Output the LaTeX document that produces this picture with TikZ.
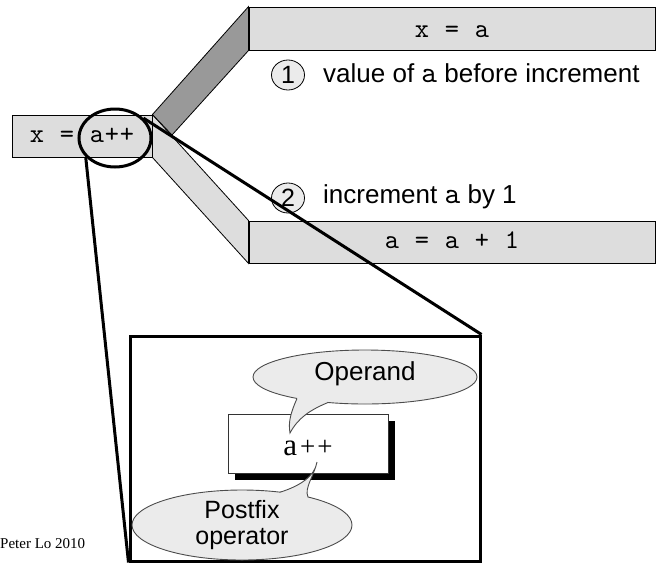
\documentclass[tikz,border=0pt]{standalone}
\usepackage{fontspec}
\setmainfont{Liberation Sans}
\newfontfamily\codefont{lmmono10-regular.otf}
\newfontfamily\timesfont{Liberation Serif}
\usetikzlibrary{shapes.geometric,backgrounds,shadows}
\definecolor{boxgray}{HTML}{DDDDDD}
\definecolor{bandgray}{HTML}{999999}
\definecolor{callgray}{HTML}{EBEBEB}
\newcommand\mch[1]{\makebox[15pt]{#1}}
\begin{document}
\begin{tikzpicture}[x=1pt,y=-1pt,
  codebox/.style={draw=black,line width=0.9pt,fill=boxgray,inner sep=0pt,font=\fontsize{27}{27}\codefont},
  zoomline/.style={line width=3pt},
  callout/.style={ellipse,draw=black!70,line width=0.9pt,fill=callgray,inner sep=0pt},
  tailline/.style={draw=black!70,line width=0.9pt},
  numcirc/.style={ellipse,draw=black,line width=0.8pt,fill=callgray,inner sep=0pt,minimum width=33pt,minimum height=30pt,font=\fontsize{25}{25}\selectfont},
  sidetext/.style={anchor=base west,inner sep=0pt,font=\fontsize{26}{26}\selectfont}]
\useasboundingbox (0,0) rectangle (658,563);

% code boxes
\node[codebox,minimum width=140pt,text height=27pt,text depth=15pt] (lhs) at (82,136)
  {\mch{x}\mch{}\mch{=}\mch{}\mch{a}\mch{+}\mch{+}};
\node[codebox,minimum width=406pt,text height=30pt,text depth=13pt] (topbox) at (452,28.5)
  {\mch{x}\mch{}\mch{=}\mch{}\mch{a}};
\node[codebox,minimum width=406pt,text height=27pt,text depth=15pt] (botbox) at (452,242)
  {\mch{a}\mch{}\mch{=}\mch{}\mch{a}\mch{}\mch{+}\mch{}\mch{1}};
\coordinate (bandend) at (172,135);

\begin{scope}[on background layer]
  \draw[fill=boxgray,line width=0.8pt] (lhs.north east) -- (botbox.north west) -- (botbox.south west) -- (lhs.south east) -- cycle;
  \draw[fill=bandgray,line width=0.8pt] (lhs.north east) -- (topbox.north west) -- (topbox.south west) -- (bandend) -- cycle;
\end{scope}

% step labels
\node[numcirc] (n1) at (288,75) {1};
\node[sidetext] (t1) at (323,82) {value of {\fontsize{30}{30}\codefont a} before increment};
\node[numcirc] (n2) at (288,198) {2};
\node[sidetext] (t2) at (323,203) {increment {\fontsize{30}{30}\codefont a} by 1};

% magnifier ring and zoom box
\node[ellipse,draw,line width=3pt,minimum width=72pt,minimum height=58pt,inner sep=0pt] (ring) at (115,138) {};
\node[draw,line width=3pt,minimum width=350pt,minimum height=225pt,inner sep=0pt] (zoombox) at (305,448.5) {};
\draw[zoomline] (ring.213) -- (zoombox.south west);
\draw[zoomline] (ring.35) -- (zoombox.north east);

% a++ box with shadow
\node[draw=black!80,line width=0.8pt,fill=white,minimum width=160pt,inner sep=0pt,
  text height=41pt,text depth=18pt,
  drop shadow={opacity=1,fill=black,shadow xshift=7pt,shadow yshift=-7pt}] (apbox) at (308,443.5)
  {\fontsize{31}{31}\timesfont a\kern3pt\fontsize{27}{27}\timesfont+\kern2pt+};

% Operand callout
\node[callout,minimum width=224pt,minimum height=54pt,text height=12pt,text depth=5pt,
  font=\fontsize{26}{26}\selectfont] (opnd) at (365,377) {Operand};
\fill[callgray] (297,398.5) .. controls (291,412) and (288,422) .. (290,433)
  .. controls (298,418) and (310,410) .. (328,402.5) -- (320,394) -- (300,394) -- cycle;
\draw[tailline] (297,398.5) .. controls (291,412) and (288,422) .. (290,433)
  .. controls (298,418) and (310,410) .. (328,402.5);

% Postfix callout
\node[callout,minimum width=220pt,minimum height=70pt,align=center,
  font=\fontsize{25}{26}\selectfont] (pfx) at (242,525) {Postfix\\operator};
\fill[callgray] (280,492.2) .. controls (300,486) and (315,476) .. (317,462)
  .. controls (314,476) and (304,488) .. (308,497) -- (300,503) -- (285,501) -- cycle;
\draw[tailline] (280,492.2) .. controls (300,486) and (315,476) .. (317,462)
  .. controls (314,476) and (304,488) .. (308,497);

% credit
\node[anchor=base west,inner sep=0pt,font=\fontsize{15}{15}\timesfont] (credit) at (0,548) {Peter Lo 2010};
\end{tikzpicture}
\end{document}
